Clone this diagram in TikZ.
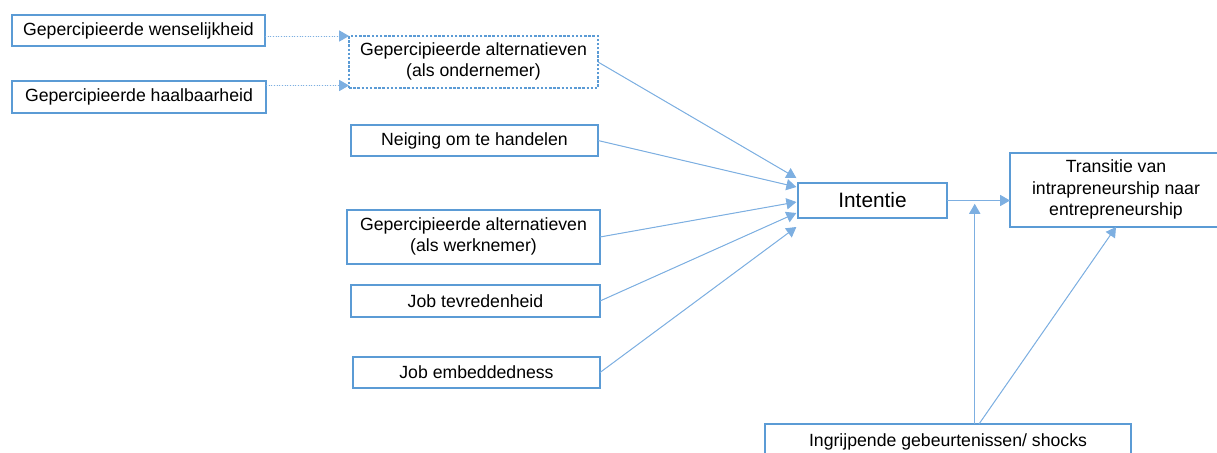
\documentclass[tikz,border=0pt]{standalone}
\usepackage{fontspec}
\setmainfont{Liberation Sans}
\usepackage{tikz}
\usetikzlibrary{shapes,arrows}
\usetikzlibrary{calc}
\definecolor{boxblue}{RGB}{91, 155, 213}
\definecolor{lineblue}{RGB}{125, 175, 225}

\begin{document}
\begin{tikzpicture}[x=0.6pt,y=-0.6pt]

\tikzstyle{blue_box} = [draw,outer sep=0,inner sep=2,line width=0.8, draw=boxblue, fill=white, font=\fontsize{10.6}{12.8}\selectfont]
\tikzstyle{dash_box} = [blue_box, dash pattern=on 1.5pt off 1pt]
\tikzstyle{pijl} = [-{triangle 60[scale=1.3]}, line width=0.6, draw=lineblue, fill=lineblue]
\tikzstyle{stip_pijl} = [pijl, densely dotted]

\useasboundingbox (0,0) rectangle (1217,452);

\node [blue_box, minimum width=151.8pt, minimum height=18.6pt] (wens) at (138.5,30.5) {Gepercipieerde wenselijkheid};
\node [blue_box, minimum width=152.4pt, minimum height=19.2pt] (haal) at (139,97) {Gepercipieerde haalbaarheid};

\node [dash_box, minimum width=149.4pt, minimum height=31.2pt] (ondern) at (473.5,62) {\begin{tabular}{@{}c@{}} Gepercipieerde alternatieven\\ (als ondernemer)\end{tabular}};
\node [blue_box, minimum width=148.2pt, minimum height=18.6pt] (neiging) at (474.5,140.5) {Neiging om te handelen};
\node [blue_box, minimum width=151.8pt, minimum height=32.4pt] (werkn) at (473.5,237) {\begin{tabular}{@{}c@{}} Gepercipieerde alternatieven\\ (als werknemer)\end{tabular}};
\node [blue_box, minimum width=149.4pt, minimum height=19.2pt] (tevred) at (475.5,301) {Job tevredenheid};
\node [blue_box, minimum width=148.2pt, minimum height=18.6pt] (embed) at (476.5,372.5) {Job embeddedness};

\node [blue_box, minimum width=89.4pt, minimum height=21pt, font=\fontsize{12.5}{14}\selectfont] (int) at (872.5,200.5) {Intentie};
\node [blue_box, minimum width=127.2pt, minimum height=44.4pt] (trans) at (1116,190) {\begin{tabular}{@{}c@{}} Transitie van\\ intrapreneurship naar\\ entrepreneurship\end{tabular}};
\node [blue_box, minimum width=219.6pt, minimum height=21.6pt] (shocks) at (948,442) {Ingrijpende gebeurtenissen/ shocks};

% naar alternatieven als ondernemer
\draw [stip_pijl] (wens.east |- ondern.north west) -- (ondern.north west);
\draw [stip_pijl] ([yshift=1.5pt]haal.east |- ondern.south west) -- ([yshift=1.5pt]ondern.south west);

% naar intentie
\draw [pijl] (ondern.east) -- ([xshift=-1pt,yshift=13.5pt]int.west);
\draw [pijl] (neiging.east) -- ([xshift=-1pt,yshift=8.1pt]int.west);
\draw [pijl] (werkn.east) -- ([xshift=-1pt,yshift=-0.9pt]int.west);
\draw [pijl] (tevred.east) -- ([xshift=-1pt,yshift=-7.5pt]int.west);
\draw [pijl] (embed.east) -- ([xshift=-1pt,yshift=-15.9pt]int.west);

% intentie naar transitie
\draw [pijl] (int.east) -- (int.east -| trans.west);
\coordinate (join) at ($(int.east)!0.44!(int.east -| trans.west)$);

% shocks
\draw [pijl] (shocks.north -| join) -- ([yshift=-2pt]join);
\draw [pijl] ([xshift=18.6pt]shocks.north) -- (trans.south);

\end{tikzpicture}
\end{document}
